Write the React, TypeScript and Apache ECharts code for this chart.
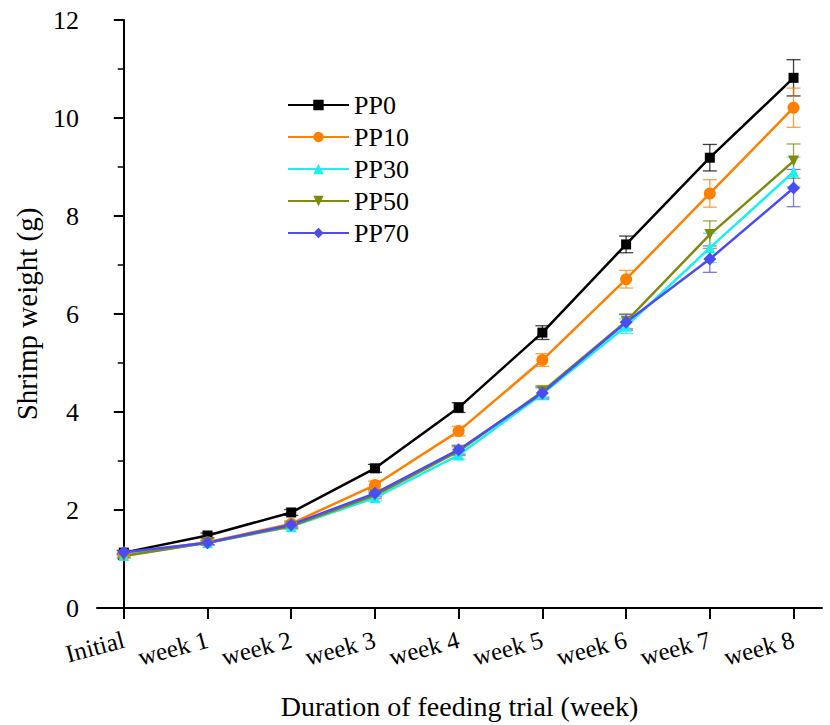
import React, { useEffect, useRef } from "react";
import * as echarts from "echarts";

const categories = ["Initial", "week 1", "week 2", "week 3", "week 4", "week 5", "week 6", "week 7", "week 8"];
const seriesNames = ["PP0", "PP10", "PP30", "PP50", "PP70"];
const pp0 = [1.13, 1.48, 1.95, 2.85, 4.09, 5.62, 7.42, 9.19, 10.82];
const pp0Err = [0.04, 0.05, 0.06, 0.08, 0.1, 0.14, 0.17, 0.27, 0.37];
const pp10 = [1.1, 1.34, 1.72, 2.51, 3.61, 5.06, 6.71, 8.46, 10.21];
const pp10Err = [0.04, 0.05, 0.06, 0.08, 0.1, 0.13, 0.18, 0.28, 0.4];
const pp30 = [1.07, 1.33, 1.66, 2.25, 3.12, 4.37, 5.75, 7.35, 8.9];
const pp30Err = [0.04, 0.04, 0.05, 0.07, 0.08, 0.12, 0.15, 0.3, 0.3];
const pp50 = [1.06, 1.33, 1.67, 2.3, 3.2, 4.42, 5.85, 7.62, 9.12];
const pp50Err = [0.04, 0.04, 0.05, 0.07, 0.09, 0.12, 0.15, 0.28, 0.35];
const pp70 = [1.14, 1.33, 1.7, 2.34, 3.23, 4.39, 5.83, 7.12, 8.57];
const pp70Err = [0.04, 0.04, 0.05, 0.07, 0.09, 0.12, 0.16, 0.27, 0.38];
const yTicks = [0, 2, 4, 6, 8, 10, 12];

const values = [pp0, pp10, pp30, pp50, pp70];
const errors = [pp0Err, pp10Err, pp30Err, pp50Err, pp70Err];
const colors = ["#000000", "#ff8000", "#19f0f0", "#7f8a0f", "#4c4cf5"];
const symbols = ["rect", "circle", "triangle", "path://M0,0 L10,0 L5,9 Z", "diamond"];
const symbolSizes = [10, 12, 11, 11, 13];

export default function App() {
  const ref = useRef<HTMLDivElement>(null);
  useEffect(() => {
    const chart = echarts.init(ref.current!, null, { renderer: "svg" });
    const font = "Liberation Serif";
    const xIdx = categories.map((_, i) => i);
    const series: any[] = [];
    values.forEach((vals, s) => {
      series.push({
        type: "custom",
        name: seriesNames[s] + " err",
        renderItem: (params: any, api: any) => {
          const x = api.value(0);
          const y = api.value(1);
          const e = api.value(2);
          const top = api.coord([x, y + e]);
          const bot = api.coord([x, y - e]);
          const hw = 7;
          const style = { stroke: colors[s], lineWidth: 1.3, opacity: 0.75 };
          return {
            type: "group",
            children: [
              { type: "line", shape: { x1: top[0], y1: top[1], x2: bot[0], y2: bot[1] }, style },
              { type: "line", shape: { x1: top[0] - hw, y1: top[1], x2: top[0] + hw, y2: top[1] }, style },
              { type: "line", shape: { x1: bot[0] - hw, y1: bot[1], x2: bot[0] + hw, y2: bot[1] }, style },
            ],
          };
        },
        data: vals.map((v, i) => [i, v, errors[s][i]]),
        z: 1,
        silent: true,
      });
    });
    values.forEach((vals, s) => {
      series.push({
        type: "line",
        name: seriesNames[s],
        data: vals.map((v, i) => [i, v]),
        symbol: symbols[s],
        symbolSize: symbolSizes[s],
        showAllSymbol: true,
        lineStyle: { color: colors[s], width: 2.5 },
        itemStyle: { color: colors[s] },
        z: 2,
      });
    });
    chart.setOption({
      animation: false,
      backgroundColor: "#ffffff",
      textStyle: { fontFamily: font },
      grid: { left: 97, top: 20, right: 8, bottom: 115, containLabel: false },
      legend: {
        data: seriesNames,
        orient: "vertical",
        left: 282,
        top: 87,
        itemWidth: 61,
        itemHeight: 13,
        itemGap: 6,
        textStyle: { fontFamily: font, fontSize: 26, lineHeight: 26, color: "#000" },
      },
      xAxis: {
        type: "value",
        min: -0.32,
        max: 8.34,
        splitLine: { show: false },
        axisLine: { show: true, onZero: false, lineStyle: { color: "#000", width: 2 } },
        axisTick: { show: true, customValues: xIdx, length: 11, lineStyle: { color: "#000", width: 2 } },
        axisLabel: {
          customValues: xIdx,
          rotate: 15,
          fontFamily: font,
          fontSize: 25,
          color: "#000",
          margin: 31,
          formatter: (v: number) => categories[Math.round(v)] ?? "",
        },
        name: "Duration of feeding trial (week)",
        nameLocation: "middle",
        nameGap: 84,
        nameTextStyle: { fontFamily: font, fontSize: 28, color: "#000" },
      },
      yAxis: {
        type: "value",
        min: yTicks[0],
        max: yTicks[yTicks.length - 1],
        interval: 2,
        splitLine: { show: false },
        axisLine: { show: true, lineStyle: { color: "#000", width: 2 } },
        axisTick: { show: true, length: 10, lineStyle: { color: "#000", width: 2 } },
        minorTick: { show: true, splitNumber: 2, length: 6, lineStyle: { color: "#000", width: 1.5 } },
        axisLabel: { fontFamily: font, fontSize: 26, color: "#000", margin: 18 },
        name: "Shrimp weight (g)",
        nameLocation: "middle",
        nameGap: 56,
        nameTextStyle: { fontFamily: font, fontSize: 29, color: "#000" },
      },
      series,
    });
    return () => chart.dispose();
  }, []);
  return <div ref={ref} style={{ width: 830, height: 725, position: "absolute", left: 0, top: 0 }} />;
}
